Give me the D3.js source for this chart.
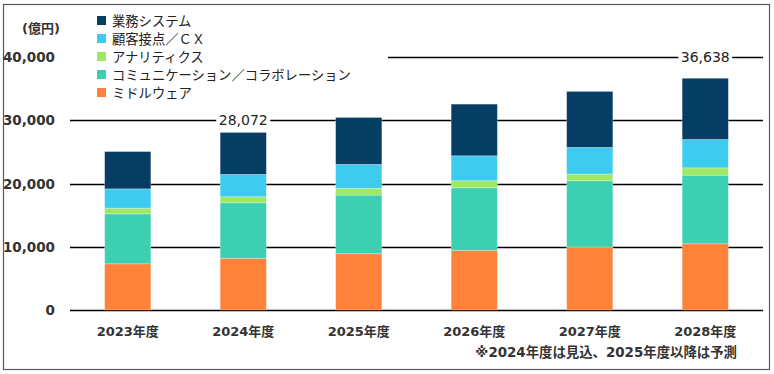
<!DOCTYPE html>
<meta charset="utf-8">
<title>市場規模推移</title>
<body>
<script src="https://cdn.jsdelivr.net/npm/d3@7"></script>
<style>
html, body {
    margin: 0;
    background: #fff;
}
svg {
    display: block;
    font-family: "DejaVu Sans", "Noto Sans CJK JP", sans-serif;
}
</style>
<svg></svg>
<script>
var width = 774,
    height = 374;

// data
var years = ["2023年度", "2024年度", "2025年度", "2026年度", "2027年度", "2028年度"];
var seriesNames = ["ミドルウェア", "コミュニケーション／コラボレーション", "アナリティクス", "顧客接点／ＣＸ", "業務システム"];
var middleware = [7300, 8170, 8900, 9430, 9950, 10470];
var communication = [7900, 8780, 9270, 9890, 10480, 10850];
var analytics = [900, 950, 1060, 1110, 1060, 1150];
var customerCx = [3050, 3540, 3790, 3950, 4220, 4490];
var business = [5900, 6632, 7420, 8170, 8850, 9678];
var yTicks = [0, 10000, 20000, 30000, 40000];
var callouts = [{ year: "2024年度", label: "28,072", at: 30000 },
                { year: "2028年度", label: "36,638", at: 40000 }];
var colors = ["#fe8239", "#3dcfb1", "#9ee865", "#3ecbf0", "#053d63"];

var seriesValues = [middleware, communication, analytics, customerCx, business];
var rows = years.map(function(y, i) {
    var r = { year: y };
    seriesNames.forEach(function(s, k) { r[s] = seriesValues[k][i]; });
    return r;
});

var svg = d3.select("svg")
    .attr("width", width)
    .attr("height", height);

var x = d3.scaleBand()
    .domain(years)
    .range([70, 763])
    .paddingInner(0.6)
    .paddingOuter(0.3);

var y = d3.scaleLinear()
    .domain([0, 40000])
    .range([310, 57]);

// border
svg.append("rect")
    .attr("x", 3.5)
    .attr("y", 4.5)
    .attr("width", 766)
    .attr("height", 365)
    .attr("fill", "none")
    .attr("stroke", "#595959")
    .attr("stroke-width", 1.2);

// gridlines
svg.append("g").selectAll("line")
    .data(yTicks)
    .enter().append("line")
    .attr("x1", 70)
    .attr("x2", 763)
    .attr("y1", function(d) { return Math.round(y(d)) + 0.5; })
    .attr("y2", function(d) { return Math.round(y(d)) + 0.5; })
    .attr("stroke", "#000")
    .attr("stroke-width", 1.3);

// y tick labels
svg.append("g").selectAll("text")
    .data(yTicks)
    .enter().append("text")
    .attr("x", 55)
    .attr("y", function(d) { return y(d) + 5; })
    .attr("text-anchor", "end")
    .attr("font-size", 13.5)
    .attr("font-weight", "bold")
    .attr("fill", "#333")
    .text(function(d) { return d3.format(",")(d); });

svg.append("text")
    .attr("x", 41)
    .attr("y", 33)
    .attr("text-anchor", "middle")
    .attr("font-size", 13)
    .attr("font-weight", "bold")
    .attr("fill", "#333")
    .text("(億円)");

// stacked bars
var stack = d3.stack().keys(seriesNames)(rows);

svg.append("g").selectAll("g")
    .data(stack)
    .enter().append("g")
    .attr("fill", function(d, i) { return colors[i]; })
    .selectAll("rect")
    .data(function(d) { return d; })
    .enter().append("rect")
    .attr("x", function(d) { return x(d.data.year); })
    .attr("width", x.bandwidth())
    .attr("y", function(d) { return y(d[1]); })
    .attr("height", function(d) { return y(d[0]) - y(d[1]); })
    .attr("stroke", "rgba(255,255,255,0.35)")
    .attr("stroke-width", 0.8);

// legend, white box hides the top gridline
var legend = svg.append("g");
legend.append("rect")
    .attr("x", 68)
    .attr("y", 8)
    .attr("width", 320)
    .attr("height", 95)
    .attr("fill", "#fff");

var items = legend.selectAll("g")
    .data(seriesNames.slice().reverse())
    .enter().append("g")
    .attr("transform", function(d, i) { return "translate(97," + (20.5 + i * 18) + ")"; });

items.append("rect")
    .attr("x", 0)
    .attr("y", -4.5)
    .attr("width", 9)
    .attr("height", 9)
    .attr("fill", function(d, i) { return colors[colors.length - 1 - i]; });

items.append("text")
    .attr("x", 15)
    .attr("y", 5)
    .attr("font-size", 13.3)
    .attr("fill", "#222")
    .text(function(d) { return d; });

// total callouts
var co = svg.append("g").selectAll("g")
    .data(callouts)
    .enter().append("g")
    .attr("transform", function(d) {
        return "translate(" + (x(d.year) + x.bandwidth() / 2) + "," + y(d.at) + ")";
    });

co.append("rect")
    .attr("x", -27)
    .attr("y", -8)
    .attr("width", 54)
    .attr("height", 16)
    .attr("fill", "#fff");

co.append("text")
    .attr("y", 5)
    .attr("text-anchor", "middle")
    .attr("font-size", 14)
    .attr("fill", "#222")
    .text(function(d) { return d.label; });

// x labels
svg.append("g").selectAll("text")
    .data(years)
    .enter().append("text")
    .attr("x", function(d) { return x(d) + x.bandwidth() / 2; })
    .attr("y", 336)
    .attr("text-anchor", "middle")
    .attr("font-size", 13)
    .attr("font-weight", "bold")
    .attr("fill", "#333")
    .text(function(d) { return d; });

svg.append("text")
    .attr("x", 737)
    .attr("y", 357)
    .attr("text-anchor", "end")
    .attr("font-size", 13.4)
    .attr("font-weight", "bold")
    .attr("fill", "#333")
    .text("※2024年度は見込、2025年度以降は予測");
</script>
